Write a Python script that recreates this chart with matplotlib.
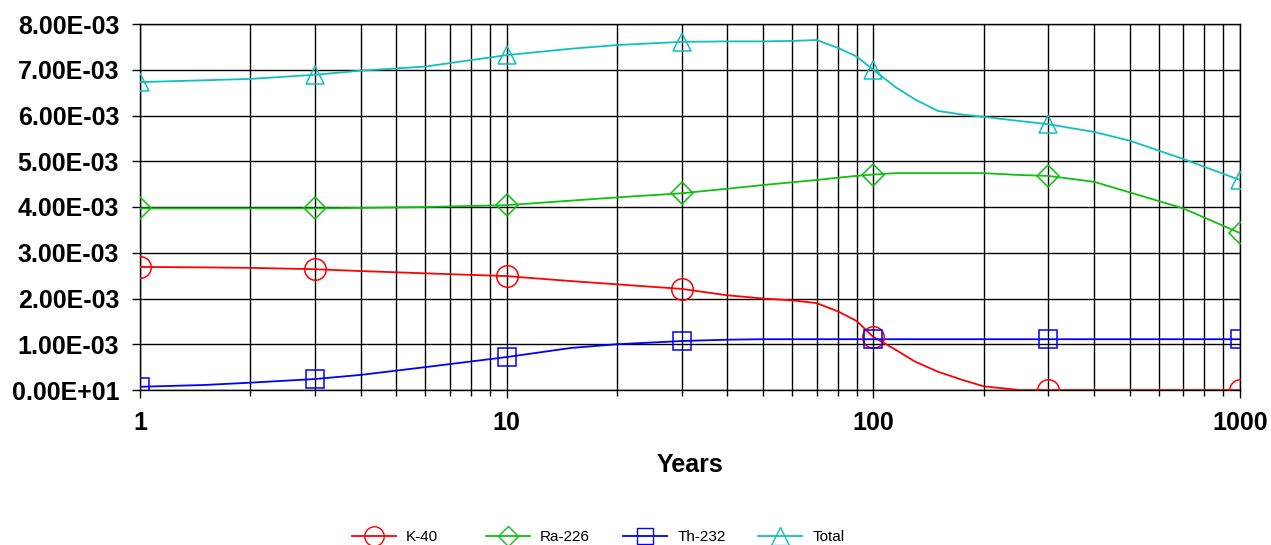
import matplotlib
matplotlib.use("Agg")
import matplotlib.pyplot as plt
from matplotlib.ticker import LogLocator, NullFormatter, FixedLocator, FixedFormatter
from matplotlib.lines import Line2D

plt.rcParams["font.family"] = ["Liberation Sans", "DejaVu Sans"]

# ------------------------------------------------------------
# Data (dose values x 1e-3)
# ------------------------------------------------------------
years = [1, 1.5, 2, 3, 4, 6, 10, 15, 20, 30, 40, 50, 60, 70, 80, 90, 100,
         115, 130, 150, 175, 200, 250, 300, 400, 500, 700, 1000]

k40 = [2.69, 2.68, 2.67, 2.64, 2.60, 2.55, 2.49, 2.38, 2.31, 2.21, 2.07, 2.00,
       1.96, 1.90, 1.72, 1.51, 1.16, 0.88, 0.62, 0.40, 0.22, 0.08, 0.0, 0.0,
       0.0, 0.0, 0.0, 0.0]
ra226 = [3.97, 3.97, 3.97, 3.97, 3.98, 4.00, 4.04, 4.14, 4.21, 4.30, 4.40, 4.48,
         4.54, 4.59, 4.64, 4.68, 4.71, 4.74, 4.74, 4.74, 4.74, 4.74, 4.70, 4.68,
         4.55, 4.32, 3.97, 3.43]
th232 = [0.07, 0.11, 0.16, 0.24, 0.33, 0.50, 0.72, 0.92, 1.00, 1.07, 1.10, 1.11,
         1.11, 1.11, 1.11, 1.11, 1.11, 1.11, 1.11, 1.11, 1.11, 1.11, 1.11, 1.11,
         1.11, 1.11, 1.11, 1.11]
total = [6.73, 6.77, 6.80, 6.89, 6.98, 7.07, 7.32, 7.46, 7.54, 7.61, 7.62, 7.62,
         7.63, 7.65, 7.48, 7.29, 7.00, 6.62, 6.35, 6.10, 6.02, 5.97, 5.88, 5.81,
         5.64, 5.45, 5.05, 4.59]

# years where the series carry a marker
marker_years = [1, 3, 10, 30, 100, 300, 1000]

y_ticks = [0, 1, 2, 3, 4, 5, 6, 7, 8]
y_tick_labels = ["0.00E+01", "1.00E-03", "2.00E-03", "3.00E-03", "4.00E-03",
                 "5.00E-03", "6.00E-03", "7.00E-03", "8.00E-03"]
x_ticks = [1, 10, 100, 1000]
x_tick_labels = ["1", "10", "100", "1000"]

series = [
    ("K-40", k40, "#FF0000", "o", 15.5, 14.0),
    ("Ra-226", ra226, "#10C010", "D", 11.0, 10.5),
    ("Th-232", th232, "#0000FF", "s", 12.5, 12.0),
    ("Total", total, "#10C0C0", "^", 13.5, 13.0),
]
# left edge (pixels) of each legend entry
legend_x = [352, 486, 623, 758]

W, H = 1271, 545
fig = plt.figure(figsize=(W / 100, H / 100), dpi=100)
ax = fig.add_axes([140 / W, 155 / H, 1100 / W, 366 / H])

for i, (name, vals, color, mk, ms, lms) in enumerate(series):
    ax.plot(years, [v * 1e-3 for v in vals], color=color, linewidth=1.3, zorder=3)
    mvals = [vals[years.index(x)] * 1e-3 for x in marker_years]
    ax.plot(marker_years, mvals, linestyle="none", marker=mk, markersize=ms,
            markerfacecolor="none", markeredgecolor=color, markeredgewidth=1.1,
            zorder=4)
    h = Line2D([0], [0], color=color, linewidth=1.3, marker=mk, markersize=lms,
               markerfacecolor="none", markeredgecolor=color,
               markeredgewidth=1.0, label=name)
    fig.legend(handles=[h], loc="center left",
               bbox_to_anchor=(legend_x[i] / W, 1 - 537 / H), frameon=False,
               fontsize=11, handlelength=2.9, handletextpad=0.65,
               borderpad=0, borderaxespad=0)

ax.set_xscale("log")
ax.set_xlim(1, 1000)
ax.set_ylim(0, 8e-3)

ax.xaxis.set_major_locator(FixedLocator(x_ticks))
ax.xaxis.set_major_formatter(FixedFormatter(x_tick_labels))
ax.xaxis.set_minor_locator(LogLocator(base=10, subs=range(2, 10)))
ax.xaxis.set_minor_formatter(NullFormatter())
ax.yaxis.set_major_locator(FixedLocator([v * 1e-3 for v in y_ticks]))
ax.yaxis.set_major_formatter(FixedFormatter(y_tick_labels))

ax.grid(which="major", color="black", linewidth=1.0, zorder=1)
ax.grid(which="minor", axis="x", color="black", linewidth=1.0, zorder=1)
ax.set_axisbelow(True)

ax.tick_params(axis="both", which="major", length=6, width=1.0, labelsize=18,
               pad=9)
ax.tick_params(axis="x", which="minor", length=4, width=1.0)
for lbl in ax.get_xticklabels() + ax.get_yticklabels():
    lbl.set_fontweight("bold")
for sp in ax.spines.values():
    sp.set_color("black")
    sp.set_linewidth(1.0)

ax.set_xlabel("Years", fontsize=18, fontweight="bold", labelpad=13)

fig.savefig("out.png", dpi=100)
